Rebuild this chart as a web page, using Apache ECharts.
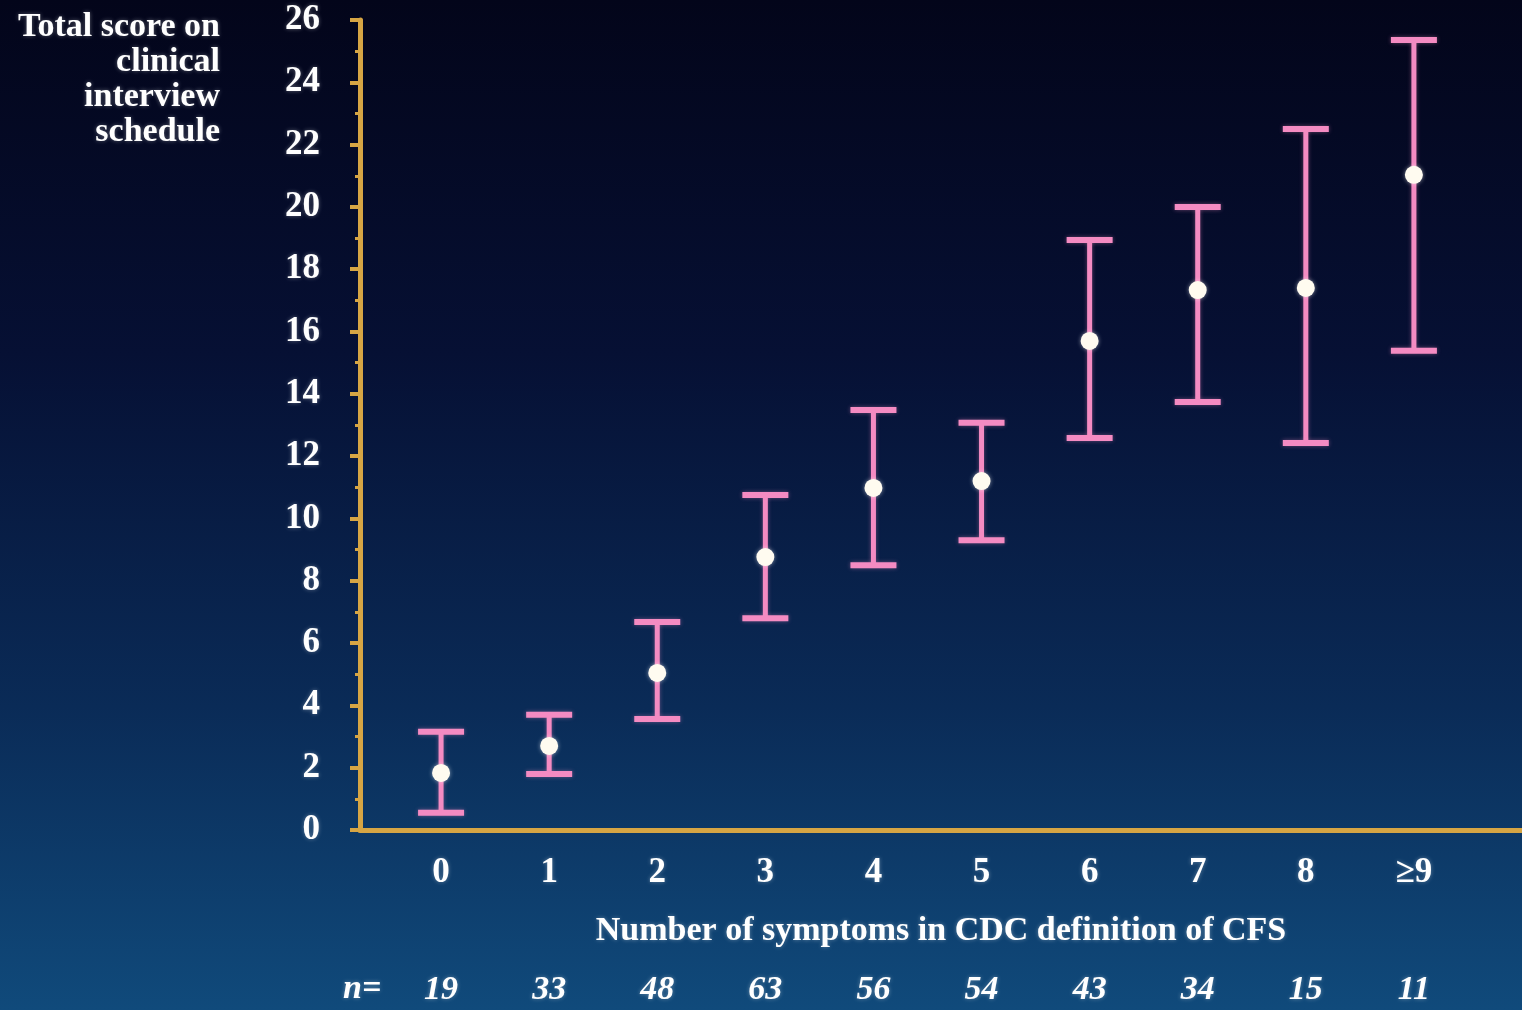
<!DOCTYPE html>
<html>
<head>
<meta charset="utf-8">
<script src="https://cdn.jsdelivr.net/npm/echarts@6/dist/echarts.min.js"></script>
<style>html,body{margin:0;padding:0;background:#05081c;}#c{width:1522px;height:1010px;}</style>
</head>
<body>
<div id="c"></div>
<script>
const categories = ['0','1','2','3','4','5','6','7','8','≥9'];
const nValues = ['19','33','48','63','56','54','43','34','15','11'];
const means = [1.83, 2.7, 5.04, 8.76, 10.98, 11.2, 15.7, 17.33, 17.4, 21.03];
const lows  = [0.55, 1.8, 3.56, 6.8, 8.5, 9.3, 12.58, 13.74, 12.42, 15.38];
const highs = [3.15, 3.7, 6.68, 10.75, 13.48, 13.07, 18.94, 20.0, 22.5, 25.36];
const yTicks = [0,2,4,6,8,10,12,14,16,18,20,22,24,26];

const AX = '#d6a544';
const PINK = '#f48bc2';
const FONT = 'Liberation Serif';
const glow = {textShadowColor:'rgba(255,255,255,0.35)', textShadowBlur:4};

const data = categories.map((c,i)=>[i, lows[i], highs[i], means[i]]);
const idx = categories.map((c,i)=>i);

const chart = echarts.init(document.getElementById('c'));
chart.setOption({
  backgroundColor: {type:'linear', x:0, y:0, x2:0, y2:1, colorStops:[
    {offset:0, color:'#03051a'},
    {offset:0.35, color:'#061034'},
    {offset:0.7, color:'#0a2b57'},
    {offset:1, color:'#104a7b'}
  ]},
  animation:false,
  grid:{left:360, right:0, top:20, bottom:180},
  xAxis:[{
    type:'value', min:-0.75, max:10,
    axisLine:{show:true, onZero:false, lineStyle:{color:AX, width:5}},
    axisTick:{show:false}, splitLine:{show:false},
    axisLabel:{customValues:idx, margin:25, formatter:v=>categories[v]??'',
      color:'#fff', fontFamily:FONT, fontWeight:'bold', fontSize:35, ...glow},
    name:'Number of symptoms in CDC definition of CFS',
    nameLocation:'middle', nameGap:84,
    nameTextStyle:{color:'#fff', fontFamily:FONT, fontWeight:'bold', fontSize:34, ...glow}
  },{
    type:'value', min:-0.75, max:10, position:'bottom', offset:135,
    axisLine:{show:false}, axisTick:{show:false}, splitLine:{show:false},
    axisLabel:{customValues:idx, margin:8, formatter:v=>nValues[v]??'',
      color:'#fff', fontFamily:FONT, fontStyle:'italic', fontWeight:'bold', fontSize:34, ...glow}
  }],
  yAxis:{
    type:'value', min:0, max:26, interval:2,
    axisLine:{show:true, onZero:false, lineStyle:{color:AX, width:5}},
    axisTick:{show:true, length:10, lineStyle:{color:AX, width:4}},
    minorTick:{show:true, splitNumber:2, length:5, lineStyle:{color:AX, width:3}},
    splitLine:{show:false}, minorSplitLine:{show:false},
    axisLabel:{margin:40, color:'#fff', fontFamily:FONT, fontWeight:'bold', fontSize:35, ...glow,
      formatter:v=>yTicks.includes(v)?String(v):''}
  },
  graphic:[
    {type:'text', x:220, y:10, style:{text:'Total score on\nclinical\ninterview\nschedule',
      fill:'#fff', font:'bold 34px "Liberation Serif"', lineHeight:35, align:'right', verticalAlign:'top', ...glow}},
    {type:'text', left:343, top:972, style:{text:'n=', fill:'#fff',
      font:'italic bold 34px "Liberation Serif"', ...glow}}
  ],
  series:[{
    type:'custom', xAxisIndex:0, yAxisIndex:0,
    data:data,
    renderItem:(params, api)=>{
      const x = api.value(0);
      const pLo = api.coord([x, api.value(1)]);
      const pHi = api.coord([x, api.value(2)]);
      const pM = api.coord([x, api.value(3)]);
      const hw = 23;
      const ls = {stroke:PINK, lineWidth:5, shadowColor:'rgba(244,139,194,0.4)', shadowBlur:4};
      return {type:'group', children:[
        {type:'line', shape:{x1:pLo[0], y1:pLo[1], x2:pHi[0], y2:pHi[1]}, style:ls},
        {type:'line', shape:{x1:pHi[0]-hw, y1:pHi[1], x2:pHi[0]+hw, y2:pHi[1]}, style:{...ls, lineWidth:6}},
        {type:'line', shape:{x1:pLo[0]-hw, y1:pLo[1], x2:pLo[0]+hw, y2:pLo[1]}, style:{...ls, lineWidth:6}},
        {type:'circle', shape:{cx:pM[0], cy:pM[1], r:9}, style:{fill:'#fffbf0', shadowColor:'rgba(255,255,255,0.5)', shadowBlur:4}}
      ]};
    }
  }]
});
</script>
</body>
</html>
